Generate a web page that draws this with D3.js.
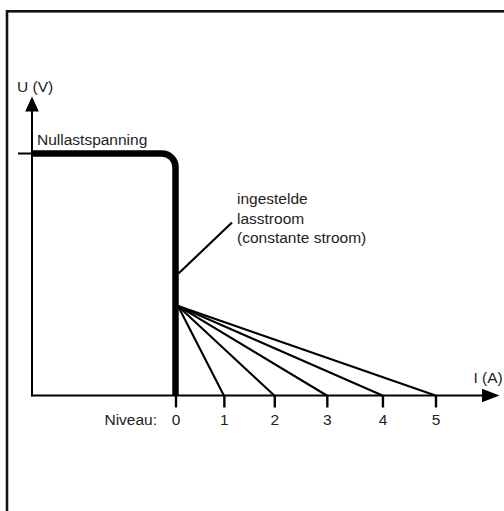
<!DOCTYPE html>
<html>
<head>
<meta charset="utf-8">
<script src="https://cdn.jsdelivr.net/npm/d3@7"></script>
<style>
  html, body { margin: 0; padding: 0; background: #fff; }
  svg { display: block; }
  text { font-family: "Liberation Sans", Arial, sans-serif; font-size: 15.5px; fill: #222; }
</style>
</head>
<body>
<script>
// Current settings (levels) and the current each level produces
const levels = ["0", "1", "2", "3", "4", "5"];
const levelCurrents = [0, 0.93, 1.9, 2.91, 3.98, 5.0];

// Relative voltages: no-load voltage and the knee where the level slopes begin
const noLoadVoltage = 1.0;
const kneeVoltage = 0.37;

const annotationLines = ["ingestelde", "lasstroom", "(constante stroom)"];

const W = 504, H = 511;
const svg = d3.select("body").append("svg").attr("width", W).attr("height", H);

// Outer frame
svg.append("rect")
  .attr("x", 7).attr("y", 11.3).attr("width", 700).attr("height", 700)
  .attr("fill", "none").attr("stroke", "#111").attr("stroke-width", 2.6);

const axisX0 = 32, axisY0 = 395.5;

const x = d3.scaleLinear().domain([0, 5]).range([175.5, 435.5]);
const y = d3.scaleLinear().domain([0, 1]).range([axisY0, 153.5]);

// Arrowheads
const defs = svg.append("defs");

// Y axis
svg.append("line")
  .attr("x1", axisX0).attr("y1", axisY0 + 1)
  .attr("x2", axisX0).attr("y2", 108)
  .attr("stroke", "#000").attr("stroke-width", 2);
svg.append("path")
  .attr("d", d3.line()([[axisX0, 96.5], [axisX0 - 6.8, 111.5], [axisX0 + 6.8, 111.5]]) + "Z")
  .attr("fill", "#000");

// X axis
svg.append("line")
  .attr("x1", axisX0 - 1).attr("y1", axisY0)
  .attr("x2", 486).attr("y2", axisY0)
  .attr("stroke", "#000").attr("stroke-width", 2);
svg.append("path")
  .attr("d", d3.line()([[499.5, axisY0], [482, axisY0 - 6.8], [482, axisY0 + 6.8]]) + "Z")
  .attr("fill", "#000");

// Level ticks and labels
const axis = d3.axisBottom(x)
  .tickValues(levelCurrents)
  .tickFormat((d, i) => levels[i])
  .tickSize(12)
  .tickPadding(6.5);
const gAxis = svg.append("g").attr("transform", `translate(0,${axisY0})`).call(axis);
gAxis.select(".domain").remove();
gAxis.selectAll(".tick line").attr("stroke", "#000").attr("stroke-width", 2.4);
gAxis.selectAll(".tick text")
  .attr("font-family", null).attr("font-size", null)
  .style("font-family", '"Liberation Sans", Arial, sans-serif')
  .style("font-size", "15.5px").style("fill", "#222");
gAxis.attr("font-family", null).attr("font-size", null);

svg.append("text")
  .attr("x", 157).attr("y", 425)
  .attr("text-anchor", "end")
  .text("Niveau:");

// Level slopes fanning out from the knee
const kneeY = y(kneeVoltage);
svg.append("g").selectAll("line")
  .data(levelCurrents.slice(1))
  .join("line")
  .attr("x1", x(0) + 2.5).attr("y1", kneeY)
  .attr("x2", d => x(d)).attr("y2", y(0))
  .attr("stroke", "#000").attr("stroke-width", 2.1);

// No-load voltage marker left of the axis
svg.append("line")
  .attr("x1", 18).attr("y1", y(noLoadVoltage))
  .attr("x2", axisX0).attr("y2", y(noLoadVoltage))
  .attr("stroke", "#000").attr("stroke-width", 2);

// Main characteristic: no-load voltage, then constant current
const r = 13.5;
const yTop = y(noLoadVoltage), xCC = x(0);
const path = d3.path();
path.moveTo(axisX0, yTop);
path.lineTo(xCC - r, yTop);
path.arcTo(xCC, yTop, xCC, yTop + r, r);
path.lineTo(xCC, y(0));
svg.append("path")
  .attr("d", path.toString())
  .attr("fill", "none").attr("stroke", "#000").attr("stroke-width", 6.5);

// Annotation leader
svg.append("line")
  .attr("x1", xCC + 3).attr("y1", 273.5)
  .attr("x2", 232).attr("y2", 222.5)
  .attr("stroke", "#000").attr("stroke-width", 2.2);

svg.append("g").selectAll("text")
  .data(annotationLines)
  .join("text")
  .attr("x", 237)
  .attr("y", (d, i) => 204 + i * 19.5)
  .text(d => d);

svg.append("text").attr("x", 37).attr("y", 145).text("Nullastspanning");
svg.append("text").attr("x", 17).attr("y", 92).text("U (V)");
svg.append("text").attr("x", 473.5).attr("y", 383).text("I (A)");
</script>
</body>
</html>
